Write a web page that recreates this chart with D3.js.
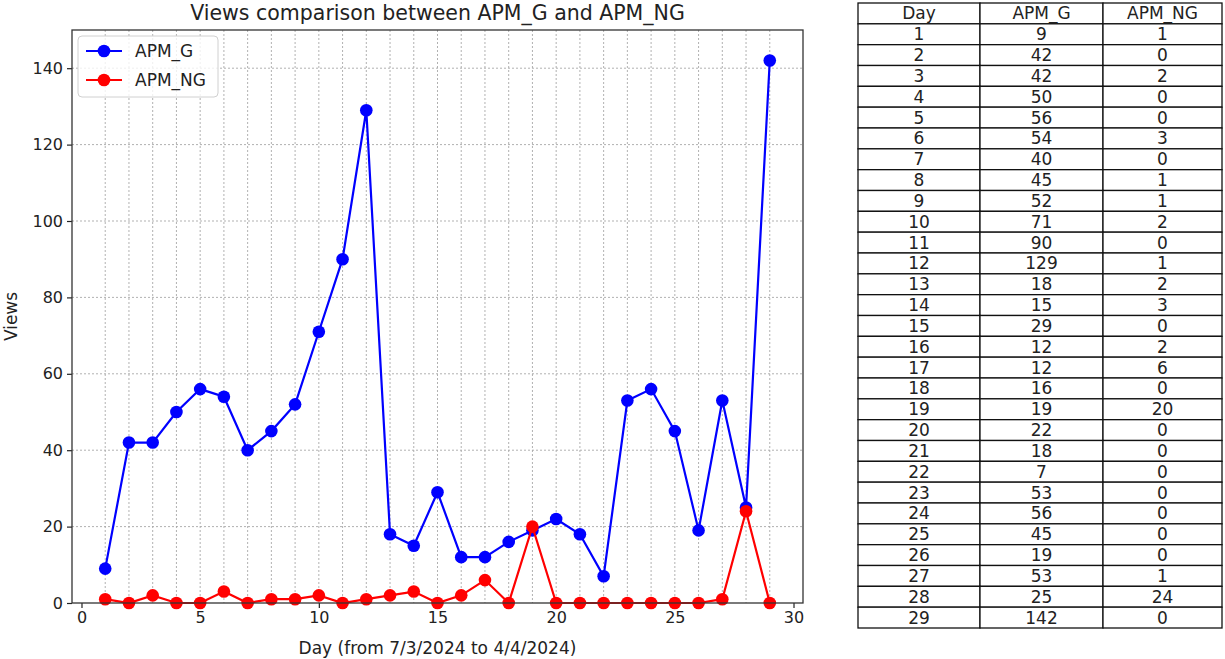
<!DOCTYPE html>
<html>
<head>
<meta charset="utf-8">
<script src="https://cdn.jsdelivr.net/npm/d3@7"></script>
<style>
  html, body { margin: 0; padding: 0; background: #fff; }
  svg { display: block; font-family: "DejaVu Sans", sans-serif; }
</style>
</head>
<body>
<svg id="chart" width="1225" height="659"></svg>
<script>
// Daily view counts
const days   = [1,2,3,4,5,6,7,8,9,10,11,12,13,14,15,16,17,18,19,20,21,22,23,24,25,26,27,28,29];
const apmG   = [9,42,42,50,56,54,40,45,52,71,90,129,18,15,29,12,12,16,19,22,18,7,53,56,45,19,53,25,142];
const apmNG  = [1,0,2,0,0,3,0,1,1,2,0,1,2,3,0,2,6,0,20,0,0,0,0,0,0,0,1,24,0];
const xTicks = [0,5,10,15,20,25,30];
const yTicks = [0,20,40,60,80,100,120,140];
const tableHeader = ["Day","APM_G","APM_NG"];

const svg = d3.select("#chart");
const plot = { left: 72, right: 803, top: 30, bottom: 603 };

const x = d3.scaleLinear().domain([-0.4, 30.4]).range([plot.left, plot.right]);
const y = d3.scaleLinear().domain([0, 150]).range([plot.bottom, plot.top]);

// Grid: one vertical line per day, horizontal lines at y ticks
const grid = svg.append("g");
grid.selectAll("line.vg").data(days).join("line")
  .attr("x1", d => x(d)).attr("x2", d => x(d))
  .attr("y1", plot.top).attr("y2", plot.bottom)
  .attr("stroke", "#a8a8a8").attr("stroke-width", 0.9).attr("stroke-dasharray", "2,2");
grid.selectAll("line.hg").data(yTicks.filter(d => d > 0)).join("line")
  .attr("x1", plot.left).attr("x2", plot.right)
  .attr("y1", d => y(d)).attr("y2", d => y(d))
  .attr("stroke", "#a8a8a8").attr("stroke-width", 0.9).attr("stroke-dasharray", "2,2");

// Axes
const xAxis = d3.axisBottom(x).tickValues(xTicks).tickSize(5).tickPadding(4);
const yAxis = d3.axisLeft(y).tickValues(yTicks).tickSize(5).tickPadding(4);
const gx = svg.append("g").attr("transform", `translate(0,${plot.bottom})`).call(xAxis);
const gy = svg.append("g").attr("transform", `translate(${plot.left},0)`).call(yAxis);
[gx, gy].forEach(g => {
  g.select(".domain").remove();
  g.selectAll("text").attr("font-size", 16).attr("fill", "#222").attr("font-family", "DejaVu Sans");
  g.selectAll("line").attr("stroke", "#222").attr("stroke-width", 1.2);
});

// Series
const series = [
  { name: "APM_G", values: apmG, color: "#0000ff" },
  { name: "APM_NG", values: apmNG, color: "#ff0000" }
];
const line = d3.line().x(d => x(d[0])).y(d => y(d[1]));
series.forEach(s => {
  const pts = days.map((d, i) => [d, s.values[i]]);
  const g = svg.append("g");
  g.append("path").attr("d", line(pts))
    .attr("fill", "none").attr("stroke", s.color).attr("stroke-width", 2.2);
  g.selectAll("circle").data(pts).join("circle")
    .attr("cx", d => x(d[0])).attr("cy", d => y(d[1])).attr("r", 6.3)
    .attr("fill", s.color);
});

// Frame
svg.append("rect")
  .attr("x", plot.left).attr("y", plot.top)
  .attr("width", plot.right - plot.left).attr("height", plot.bottom - plot.top)
  .attr("fill", "none").attr("stroke", "#333").attr("stroke-width", 1.3);

// Title and axis labels
svg.append("text").attr("x", (plot.left + plot.right) / 2).attr("y", 20)
  .attr("text-anchor", "middle").attr("font-size", 20.5).attr("fill", "#222")
  .text("Views comparison between APM_G and APM_NG");
svg.append("text").attr("x", (plot.left + plot.right) / 2).attr("y", 654)
  .attr("text-anchor", "middle").attr("font-size", 17).attr("fill", "#222")
  .text("Day (from 7/3/2024 to 4/4/2024)");
svg.append("text")
  .attr("transform", `translate(17,${(plot.top + plot.bottom) / 2}) rotate(-90)`)
  .attr("text-anchor", "middle").attr("font-size", 17).attr("fill", "#222")
  .text("Views");

// Legend
const lg = svg.append("g").attr("transform", "translate(78,36)");
lg.append("rect").attr("width", 140).attr("height", 61).attr("rx", 4)
  .attr("fill", "#fff").attr("fill-opacity", 0.8).attr("stroke", "#d0d0d0");
series.forEach((s, i) => {
  const cy = 15 + i * 29;
  lg.append("line").attr("x1", 8).attr("x2", 44).attr("y1", cy).attr("y2", cy)
    .attr("stroke", s.color).attr("stroke-width", 2.2);
  lg.append("circle").attr("cx", 26).attr("cy", cy).attr("r", 6.3).attr("fill", s.color);
  lg.append("text").attr("x", 57).attr("y", cy + 6).attr("font-size", 17).attr("fill", "#222")
    .text(s.name);
});

// Data table
const tbl = { top: 3, bottom: 628, cols: [858, 980, 1103, 1222] };
const rows = [tableHeader].concat(days.map((d, i) => [d, apmG[i], apmNG[i]]));
const rowH = (tbl.bottom - tbl.top) / rows.length;
const tg = svg.append("g");
rows.forEach((r, ri) => {
  r.forEach((v, ci) => {
    const x0 = tbl.cols[ci], x1 = tbl.cols[ci + 1];
    tg.append("rect").attr("x", x0).attr("y", tbl.top + ri * rowH)
      .attr("width", x1 - x0).attr("height", rowH)
      .attr("fill", "#fff").attr("stroke", "#111").attr("stroke-width", 1.3);
    tg.append("text").attr("x", (x0 + x1) / 2).attr("y", tbl.top + ri * rowH + rowH / 2 + 6)
      .attr("text-anchor", "middle").attr("font-size", 17).attr("fill", "#222")
      .text(v);
  });
});
</script>
</body>
</html>
